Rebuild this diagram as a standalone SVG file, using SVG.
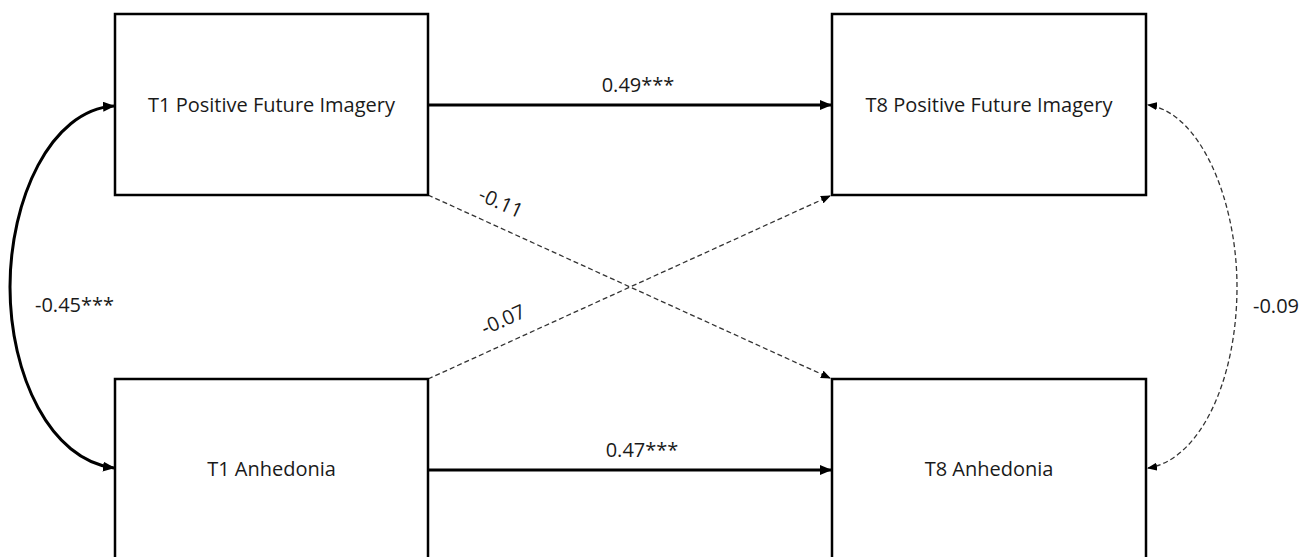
<svg xmlns="http://www.w3.org/2000/svg" width="1315" height="557" viewBox="0 0 1315 557">
<style>
.box{fill:#fff;stroke:#000;stroke-width:2.5}
.lbl{font-family:"Open Sans","Liberation Sans",sans-serif;font-size:20px;fill:#1a1a1a}
.mid{text-anchor:middle}
.solid{fill:none;stroke:#000;stroke-width:3}
.dash{fill:none;stroke:#333;stroke-width:1.3;stroke-dasharray:5 3}
</style>
<defs>
<marker id="ah" markerUnits="userSpaceOnUse" markerWidth="12" markerHeight="10" refX="11" refY="5" orient="auto-start-reverse">
<path d="M0,0 L12,5 L0,10 Z" fill="#000"/>
</marker>
<marker id="ahd" markerUnits="userSpaceOnUse" markerWidth="10" markerHeight="8" refX="9" refY="4" orient="auto-start-reverse">
<path d="M0,0 L10,4 L0,8 Z" fill="#000"/>
</marker>
</defs>
<g id="connectors">
<path class="solid" d="M428,105 L831,105" marker-end="url(#ah)"/>
<path class="solid" d="M428,470 L831,470" marker-end="url(#ah)"/>
<path class="dash" d="M428,195 L830,378" marker-end="url(#ahd)"/>
<path class="dash" d="M428,379 L830,196" marker-end="url(#ahd)"/>
<path class="solid" d="M114,106 C50,110 10,200 10,287 C10,375 50,460 114,468" marker-start="url(#ah)" marker-end="url(#ah)"/>
<path class="dash" d="M1148,468 C1200,460 1237,380 1237,287 C1237,200 1200,112 1148,105" marker-start="url(#ahd)" marker-end="url(#ahd)"/>
<text class="lbl mid" x="638" y="92">0.49***</text>
<text class="lbl mid" x="642" y="457">0.47***</text>
<text class="lbl" x="35" y="312">-0.45***</text>
<text class="lbl" x="1253" y="313">-0.09</text>
<text class="lbl mid" transform="translate(498,209) rotate(24.5)">-0.11</text>
<text class="lbl mid" transform="translate(506,326) rotate(-24.5)">-0.07</text>
</g>
<g id="t1pfi">
<rect class="box" x="115" y="14" width="313" height="181"/>
<text class="lbl mid" x="271.5" y="112">T1 Positive Future Imagery</text>
</g>
<g id="t8pfi">
<rect class="box" x="832" y="14" width="314" height="181"/>
<text class="lbl mid" x="989" y="112">T8 Positive Future Imagery</text>
</g>
<g id="t1anh">
<rect class="box" x="115" y="379" width="313" height="190"/>
<text class="lbl mid" x="271.5" y="476">T1 Anhedonia</text>
</g>
<g id="t8anh">
<rect class="box" x="832" y="379" width="314" height="190"/>
<text class="lbl mid" x="989" y="476">T8 Anhedonia</text>
</g>
</svg>
